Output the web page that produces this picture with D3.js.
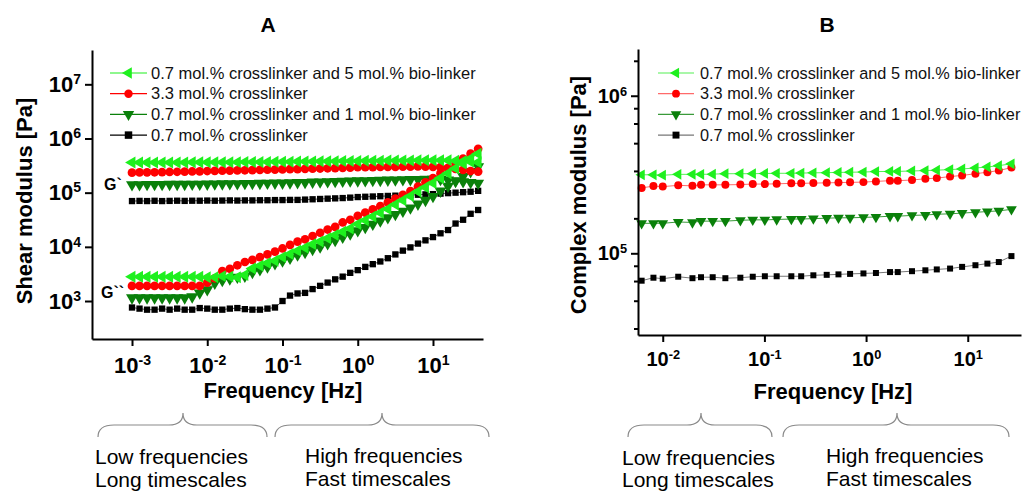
<!DOCTYPE html>
<html>
<head>
<meta charset="utf-8">
<script src="https://cdn.jsdelivr.net/npm/d3@7"></script>
<style>
  body { margin: 0; background: #fff; }
  svg { display: block; }
  text { font-family: "Liberation Sans", Arial, sans-serif; }
</style>
</head>
<body>
<svg id="chart" width="1022" height="492"></svg>
<script>
// ---------------------------------------------------------------
// Data
// ---------------------------------------------------------------
const seriesNames = [
  '0.7 mol.% crosslinker and 5 mol.% bio-linker',
  '3.3 mol.% crosslinker',
  '0.7 mol.% crosslinker and 1 mol.% bio-linker',
  '0.7 mol.% crosslinker'
]

// Panel A: frequency sweep, Hz
const freqA = [
  0.001, 0.001259, 0.001585, 0.001995, 0.002512, 0.003162, 0.003981, 0.005012, 0.00631, 0.007943,
  0.01, 0.01259, 0.01585, 0.01995, 0.02512, 0.03162, 0.03981, 0.05012, 0.0631, 0.07943,
  0.1, 0.1259, 0.1585, 0.1995, 0.2512, 0.3162, 0.3981, 0.5012, 0.631, 0.7943,
  1, 1.259, 1.585, 1.995, 2.512, 3.162, 3.981, 5.012, 6.31, 7.943,
  10, 12.59, 15.85, 19.95, 25.12, 31.62, 39.81
]

// Storage modulus G' (Pa)
const gpLime = [
  359000, 359000, 360000, 360000, 361000, 361000, 362000, 362000, 363000, 363000,
  364000, 364000, 365000, 366000, 366000, 367000, 368000, 369000, 370000, 371000,
  372000, 373000, 375000, 376000, 377000, 379000, 380000, 381000, 383000, 384000,
  385000, 387000, 388000, 389000, 391000, 392000, 393000, 394000, 395000, 397000,
  398000, 398000, 398000, 389000, 380000, 372000, 363000
]
const gpRed = [
  234000, 236000, 237000, 238000, 240000, 241000, 243000, 244000, 246000, 248000,
  251000, 252000, 254000, 256000, 258000, 259000, 261000, 263000, 265000, 267000,
  269000, 271000, 273000, 275000, 277000, 279000, 282000, 284000, 287000, 290000,
  295000, 296000, 297000, 298000, 299000, 300000, 301000, 302000, 305000, 303000,
  300000, 295000, 288000, 275000, 263000, 251000, 245000
]
const gpDarkGreen = [
  141000, 141000, 142000, 142000, 142000, 143000, 143000, 143000, 144000, 144000,
  144500, 145000, 146000, 146500, 147000, 148000, 148500, 149000, 150000, 150500,
  151000, 152000, 154000, 155000, 157000, 158000, 160000, 161000, 163000, 164500,
  166000, 167000, 168000, 169500, 171000, 172000, 173500, 175000, 176000, 177000,
  178000, 176000, 171000, 166000, 160000, 155000, 150000
]
const gpBlack = [
  70000, 70500, 70000, 70800, 70000, 70500, 71000, 70500, 71000, 71000,
  71500, 71000, 71500, 72000, 71500, 72000, 72000, 72500, 72500, 73000,
  73000, 73500, 73500, 74500, 75500, 76500, 77500, 78500, 79500, 81000,
  83000, 84000, 85000, 86000, 87000, 88000, 89500, 90500, 91500, 93000,
  94000, 96000, 98000, 100000, 102000, 104000, 108000
]

// Loss modulus G'' (Pa)
const gppLime = [
  2800, 2800, 2800, 2800, 2800, 2800, 2800, 2800, 2800, 2800,
  2750, 2750, 2880, 2820, 2750, 3020, 3980, 4470, 5010, 5560,
  6460, 7410, 8510, 9660, 11220, 12590, 14450, 16600, 19050, 21880,
  26300, 30900, 36310, 42660, 50120, 60260, 72440, 87100, 104700, 125900,
  151400, 186200, 229100, 281800, 346700, 426600, 524800
]
const gppRed = [
  1900, 1900, 1900, 1900, 1900, 1900, 1900, 1900, 1900, 1900,
  2190, 2630, 3550, 3940, 4570, 5250, 5750, 6460, 7240, 8130,
  9330, 10840, 12470, 13800, 15850, 18200, 20890, 23440, 28180, 31620,
  37150, 42660, 48980, 56230, 66070, 77620, 91200, 107200, 128800, 154900,
  186200, 229100, 281800, 346700, 426600, 524800, 645700
]
const gppDarkGreen = [
  1150, 1150, 1150, 1150, 1150, 1150, 1150, 1150, 1200, 1410,
  1620, 2140, 2400, 2570, 2750, 2880, 3390, 3800, 4270, 4900,
  5500, 6170, 7080, 7940, 9020, 10000, 11480, 13180, 15140, 17380,
  19950, 22910, 26300, 30200, 34670, 39810, 45710, 52480, 61660, 72440,
  85110, 107200, 131800, 162200, 199500, 245500, 302000
]
const gppBlack = [
  759, 724, 692, 692, 724, 692, 724, 692, 692, 741,
  724, 692, 692, 724, 741, 708, 692, 692, 724, 759,
  1000, 1259, 1380, 1413, 1660, 1905, 2188, 2512, 2818, 3311,
  3715, 4266, 4786, 5370, 6166, 7244, 8511, 9772, 11480, 13180,
  15140, 17780, 20420, 26920, 31620, 40740, 47860
]

// Panel B: complex modulus |G*| (Pa)
const freqB = [
  0.0062, 0.0081, 0.01, 0.0142, 0.0196, 0.0238, 0.031, 0.0413, 0.058, 0.0768,
  0.101, 0.132, 0.184, 0.23, 0.303, 0.41, 0.535, 0.696, 0.942, 1.25,
  1.72, 2.05, 2.83, 3.83, 4.96, 6.7, 8.8, 11.9, 15.6, 20.2, 26.9
]
const gsLime = [
  315000, 315000, 313000, 317000, 317000, 317000, 318000, 320000, 320000, 320000,
  321000, 322000, 322000, 323000, 324000, 325000, 326000, 327000, 328000, 330000,
  331000, 331000, 333000, 335000, 337000, 340000, 343000, 348000, 353000, 360000, 370000
]
const gsRed = [
  260000, 267000, 265000, 270000, 268000, 272000, 272000, 272000, 273000, 275000,
  275000, 276000, 278000, 278000, 279000, 280000, 281000, 282000, 283000, 286000,
  289000, 289000, 292000, 297000, 300000, 307000, 312000, 320000, 327000, 335000, 350000
]
const gsDarkGreen = [
  155000, 155000, 155000, 158000, 157000, 160000, 160000, 160000, 162000, 163000,
  163000, 164000, 165000, 165000, 166000, 167000, 168000, 168000, 169000, 170000,
  172000, 172000, 174000, 175000, 177000, 178000, 180000, 182000, 184000, 186000, 190000
]
const gsBlack = [
  67000, 70000, 69000, 71000, 69500, 70500, 70500, 69500, 70000, 71000,
  71500, 71500, 71500, 71500, 72500, 73000, 73500, 74000, 74500, 75000,
  76000, 76000, 77000, 78000, 79000, 80000, 82000, 84000, 86000, 88000, 96000
]

// Tick values
const majorYA = [1e3, 1e4, 1e5, 1e6, 1e7]
const majorXA = [1e-3, 1e-2, 1e-1, 1e0, 1e1]
const majorYB = [1e5, 1e6]
const minorYB = [3.333e4, 5e4, 6.667e4, 8.333e4, 1.6667e5, 3.333e5, 5e5, 6.667e5, 8.333e5, 1.6667e6]
const majorXB = [1e-2, 1e-1, 1e0, 1e1]

// ---------------------------------------------------------------
// Styling
// ---------------------------------------------------------------
const COLORS = ['#1ef01e', '#ff0000', '#0a800a', '#000000']
const LINE_B = ['#55f055', '#ff6a6a', '#3a9a3a', '#777777']
const SYMBOLS = [
  { type: d3.symbolTriangle, rot: -90 },
  { type: d3.symbolCircle, rot: 0 },
  { type: d3.symbolTriangle, rot: 180 },
  { type: d3.symbolSquare, rot: 0 }
]
const FONT = '"Liberation Sans", Arial, sans-serif'

const svg = d3.select('#chart')

// ---------------------------------------------------------------
// Helpers
// ---------------------------------------------------------------
function supLabel(sel) {
  sel.each(function (d) {
    const t = d3.select(this)
    t.text(null)
    t.append('tspan').text('10')
    t.append('tspan')
      .attr('dy', '-0.55em')
      .style('font-size', '0.64em')
      .text(Math.round(Math.log10(d)))
  })
}

function styleAxis(g, fontSize) {
  g.select('.domain').attr('stroke', '#000').attr('stroke-width', 2)
  g.selectAll('.tick line').attr('stroke', '#000').attr('stroke-width', 2)
  g.selectAll('.tick text')
    .attr('fill', '#000')
    .style('font-family', FONT)
    .style('font-weight', 'bold')
    .style('font-size', fontSize + 'px')
    .call(supLabel)
}

function drawMarkers(g, xs, ys, x, y, idx, size) {
  const sym = SYMBOLS[idx]
  const path = d3.symbol().type(sym.type).size(size)()
  g.selectAll(null)
    .data(xs.map((f, i) => [f, ys[i]]))
    .join('path')
    .attr('d', path)
    .attr('transform', d => `translate(${x(d[0])},${y(d[1])}) rotate(${sym.rot})`)
    .attr('fill', COLORS[idx])
}

function drawLine(g, xs, ys, x, y, color, opacity) {
  g.append('path')
    .datum(xs.map((f, i) => [f, ys[i]]))
    .attr('fill', 'none')
    .attr('stroke', color)
    .attr('stroke-opacity', opacity)
    .attr('stroke-width', 1)
    .attr('d', d3.line().x(d => x(d[0])).y(d => y(d[1])))
}

function drawLegend(x0, x1, xt, y0, step, fontSize, lineColors, size) {
  const g = svg.append('g')
  seriesNames.forEach((name, k) => {
    const yy = y0 + k * step
    g.append('line')
      .attr('x1', x0).attr('x2', x1).attr('y1', yy).attr('y2', yy)
      .attr('stroke', lineColors[k]).attr('stroke-width', 1.2)
    const sym = SYMBOLS[k]
    g.append('path')
      .attr('d', d3.symbol().type(sym.type).size(size)())
      .attr('transform', `translate(${(x0 + x1) / 2},${yy}) rotate(${sym.rot})`)
      .attr('fill', COLORS[k])
    g.append('text')
      .attr('x', xt).attr('y', yy)
      .attr('dy', '0.35em')
      .style('font-size', fontSize + 'px')
      .attr('fill', '#111')
      .text(name)
  })
}

function drawBrace(x0, tip, x1, yTop, yMid, yEnd) {
  const p = d3.path()
  p.moveTo(x0, yEnd)
  p.quadraticCurveTo(x0, yMid, x0 + 16, yMid)
  p.lineTo(tip - 14, yMid)
  p.quadraticCurveTo(tip, yMid, tip, yTop)
  p.quadraticCurveTo(tip, yMid, tip + 14, yMid)
  p.lineTo(x1 - 16, yMid)
  p.quadraticCurveTo(x1, yMid, x1, yEnd)
  svg.append('path')
    .attr('d', p.toString())
    .attr('fill', 'none')
    .attr('stroke', '#8a8a8a')
    .attr('stroke-width', 1.2)
}

function textAt(x, y, str, size, weight, anchor) {
  return svg.append('text')
    .attr('x', x).attr('y', y)
    .attr('text-anchor', anchor || 'start')
    .style('font-size', size + 'px')
    .style('font-weight', weight || 'normal')
    .attr('fill', '#000')
    .text(str)
}

// ---------------------------------------------------------------
// Panel A: shear modulus
// ---------------------------------------------------------------
const xA = d3.scaleLog().domain([2.94e-4, 46.2]).range([92, 483])
const yA = d3.scaleLog().domain([199, 4.3e7]).range([339, 50])

const gA = svg.append('g')
const gpA = [gpLime, gpRed, gpDarkGreen, gpBlack]
const gppA = [gppLime, gppRed, gppDarkGreen, gppBlack]
const sizeA = [62, 60, 62, 40]

for (let k = 3; k >= 0; k--) {
  drawLine(gA, freqA, gpA[k], xA, yA, COLORS[k], 0.7)
  drawLine(gA, freqA, gppA[k], xA, yA, COLORS[k], 0.7)
  drawMarkers(gA, freqA, gpA[k], xA, yA, k, sizeA[k])
  drawMarkers(gA, freqA, gppA[k], xA, yA, k, sizeA[k])
}

svg.append('g')
  .attr('transform', 'translate(92,0)')
  .call(d3.axisLeft(yA).tickValues(majorYA).tickSize(7).tickSizeOuter(0).tickPadding(4))
  .call(g => styleAxis(g, 22))

svg.append('g')
  .attr('transform', 'translate(0,339)')
  .call(d3.axisBottom(xA).tickValues(majorXA).tickSize(7).tickSizeOuter(0).tickPadding(11))
  .call(g => styleAxis(g, 22))

textAt(268, 32, 'A', 21, 'bold', 'middle')
textAt(283, 398, 'Frequency [Hz]', 22, 'bold', 'middle')
svg.append('text')
  .attr('transform', 'translate(32,201) rotate(-90)')
  .attr('text-anchor', 'middle')
  .style('font-size', '22px')
  .style('font-weight', 'bold')
  .text('Shear modulus [Pa]')

textAt(104, 190, 'G`', 16, 'bold')
textAt(101, 298, 'G``', 16, 'bold')

drawLegend(110, 147, 151, 73, 20.7, 16.5, COLORS, 56)

// ---------------------------------------------------------------
// Panel B: complex modulus
// ---------------------------------------------------------------
const xB = d3.scaleLog().domain([5.71e-3, 33.4]).range([638, 1021])
const yB = d3.scaleLog().domain([3.03e4, 1.98e6]).range([335, 49])

const gB = svg.append('g')
const gsB = [gsLime, gsRed, gsDarkGreen, gsBlack]
const sizeB = [50, 50, 50, 36]

for (let k = 3; k >= 0; k--) {
  drawLine(gB, freqB, gsB[k], xB, yB, LINE_B[k], 1)
  drawMarkers(gB, freqB, gsB[k], xB, yB, k, sizeB[k])
}

svg.append('g')
  .attr('transform', 'translate(638,0)')
  .call(d3.axisLeft(yB).tickValues(minorYB).tickSize(4).tickSizeOuter(0).tickFormat(''))
  .call(g => {
    g.select('.domain').remove()
    g.selectAll('.tick line').attr('stroke', '#000').attr('stroke-width', 2)
  })

svg.append('g')
  .attr('transform', 'translate(638,0)')
  .call(d3.axisLeft(yB).tickValues(majorYB).tickSize(7).tickSizeOuter(0).tickPadding(4))
  .call(g => styleAxis(g, 20))

svg.append('g')
  .attr('transform', 'translate(0,335)')
  .call(d3.axisBottom(xB).tickValues(majorXB).tickSize(7).tickSizeOuter(0).tickPadding(10))
  .call(g => styleAxis(g, 20))

textAt(827, 32, 'B', 21, 'bold', 'middle')
textAt(833, 399, 'Frequency [Hz]', 22, 'bold', 'middle')
svg.append('text')
  .attr('transform', 'translate(586,195) rotate(-90)')
  .attr('text-anchor', 'middle')
  .style('font-size', '22px')
  .style('font-weight', 'bold')
  .text('Complex modulus [Pa]')

drawLegend(658, 694, 700, 73, 20.7, 16.3, LINE_B, 48)

// ---------------------------------------------------------------
// Braces and annotations
// ---------------------------------------------------------------
drawBrace(98, 183, 267, 413, 425, 437)
drawBrace(275, 382, 489, 413, 425, 437)
drawBrace(628, 701, 772, 413, 425, 437)
drawBrace(783, 897, 1009, 413, 425, 437)

textAt(95, 464, 'Low frequencies', 21)
textAt(95, 487, 'Long timescales', 21)
textAt(305, 463, 'High frequencies', 21)
textAt(305, 486, 'Fast timescales', 21)
textAt(622, 465, 'Low frequencies', 21)
textAt(622, 487, 'Long timescales', 21)
textAt(826, 463, 'High frequencies', 21)
textAt(826, 486, 'Fast timescales', 21)
</script>
</body>
</html>
